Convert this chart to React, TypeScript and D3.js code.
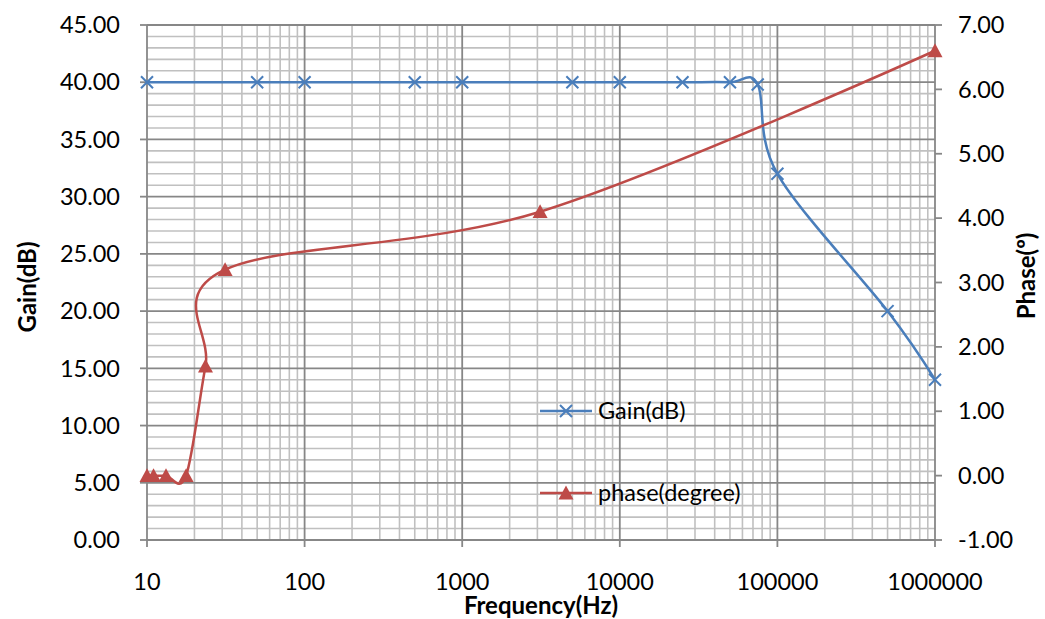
import React from 'react';
import * as d3 from 'd3';

const gainFreq = [10, 50, 100, 500, 1000, 5000, 10000, 25000, 50000, 75000, 100000, 500000, 1000000];
const gainDb = [40, 40, 40, 40, 40, 40, 40, 40, 40, 39.8, 32, 20, 14];
const phaseFreq = [10, 11, 13.2, 17.7, 23.5, 31.3, 3120, 1000000];
const phaseDeg = [0, 0, 0, 0, 1.7, 3.2, 4.1, 6.6];
const xTickValues = [10, 100, 1000, 10000, 100000, 1000000];
const gainTickValues = [0, 5, 10, 15, 20, 25, 30, 35, 40, 45];
const phaseTickValues = [-1, 0, 1, 2, 3, 4, 5, 6, 7];
const seriesNames = ['Gain(dB)', 'phase(degree)'];

const W = 1045;
const H = 619;
const L = 147, R = 935, T = 25, B = 540;
const FONT = 'Lato, "Open Sans", sans-serif';
const BLUE = '#4A7EBB';
const RED = '#BE4B48';

export default function App() {
  const x = d3.scaleLog().domain([10, 1000000]).range([L, R]);
  const yG = d3.scaleLinear().domain([0, 45]).range([B, T]);
  const yP = d3.scaleLinear().domain([-1, 7]).range([B, T]);

  const minorX: number[] = [];
  for (let d = 10; d < 1000000; d *= 10) {
    for (let k = 2; k <= 9; k++) minorX.push(d * k);
  }
  const minorY: number[] = [];
  for (let v = 0; v <= 45; v += 1) if (v % 5 !== 0) minorY.push(v);

  const line = d3.line<[number, number]>().curve(d3.curveCardinal.tension(0));
  const gainPts: [number, number][] = gainFreq.map((f, i) => [x(f), yG(gainDb[i])]);
  const phasePts: [number, number][] = phaseFreq.map((f, i) => [x(f), yP(phaseDeg[i])]);

  const cross = (cx: number, cy: number, k: string) => {
    const s = 6;
    return (
      <path key={k} d={`M${cx - s},${cy - s}L${cx + s},${cy + s}M${cx - s},${cy + s}L${cx + s},${cy - s}`}
        stroke={BLUE} strokeWidth={2} fill="none" />
    );
  };
  const tri = (cx: number, cy: number, k: string) => {
    const s = 7.5;
    return (
      <path key={k} d={`M${cx},${cy - s}L${cx + s},${cy + s * 0.85}L${cx - s},${cy + s * 0.85}Z`} fill={RED} />
    );
  };

  const legY1 = 411, legY2 = 493, legX0 = 540, legX1 = 592;

  return (
    <svg width={W} height={H} style={{ position: 'absolute', left: 0, top: 0, background: '#fff' }} fontFamily={FONT}>
      <rect x={0} y={0} width={W} height={H} fill="#fff" />
      {/* minor grid */}
      {minorX.map((v) => (
        <line key={'mx' + v} x1={x(v)} x2={x(v)} y1={T} y2={B} stroke="#C0C0C0" strokeWidth={1.6} />
      ))}
      {minorY.map((v) => (
        <line key={'my' + v} x1={L} x2={R} y1={yG(v)} y2={yG(v)} stroke="#C0C0C0" strokeWidth={1.6} />
      ))}
      {/* major grid */}
      {xTickValues.map((v) => (
        <line key={'Mx' + v} x1={x(v)} x2={x(v)} y1={T} y2={B} stroke="#878787" strokeWidth={1.8} />
      ))}
      {gainTickValues.map((v) => (
        <line key={'My' + v} x1={L} x2={R} y1={yG(v)} y2={yG(v)} stroke="#878787" strokeWidth={1.8} />
      ))}
      {/* axes ticks */}
      {gainTickValues.map((v) => (
        <line key={'lt' + v} x1={L - 7} x2={L} y1={yG(v)} y2={yG(v)} stroke="#878787" strokeWidth={1.8} />
      ))}
      {phaseTickValues.map((v) => (
        <line key={'rt' + v} x1={R} x2={R + 7} y1={yP(v)} y2={yP(v)} stroke="#878787" strokeWidth={1.8} />
      ))}
      {xTickValues.map((v) => (
        <line key={'bt' + v} x1={x(v)} x2={x(v)} y1={B} y2={B + 7} stroke="#878787" strokeWidth={1.8} />
      ))}
      {/* tick labels */}
      {gainTickValues.map((v) => (
        <text key={'ll' + v} x={120} y={yG(v)} dy="0.35em" textAnchor="end" fontSize={23.5} fill="#000">
          {v.toFixed(2)}
        </text>
      ))}
      {phaseTickValues.map((v) => (
        <text key={'rl' + v} x={958} y={yP(v)} dy="0.35em" textAnchor="start" fontSize={23.5} fill="#000">
          {v.toFixed(2)}
        </text>
      ))}
      {xTickValues.map((v) => (
        <text key={'xl' + v} x={x(v)} y={590} textAnchor="middle" fontSize={23.5} fill="#000">
          {String(v)}
        </text>
      ))}
      {/* axis titles */}
      <text x={541} y={614} textAnchor="middle" fontSize={24} fontWeight="bold" fill="#000">Frequency(Hz)</text>
      <text transform="translate(36,287) rotate(-90)" textAnchor="middle" fontSize={24} fontWeight="bold" fill="#000">Gain(dB)</text>
      <text transform="translate(1035,276) rotate(-90)" textAnchor="middle" fontSize={24} fontWeight="bold" fill="#000">
        Phase(º)
      </text>
      {/* series */}
      <path d={line(gainPts) || ''} fill="none" stroke={BLUE} strokeWidth={2.5} />
      <path d={line(phasePts) || ''} fill="none" stroke={RED} strokeWidth={2.5} />
      {gainPts.map((p, i) => cross(p[0], p[1], 'g' + i))}
      {phasePts.map((p, i) => tri(p[0], p[1], 'p' + i))}
      {/* legend */}
      <line x1={legX0} x2={legX1} y1={legY1} y2={legY1} stroke={BLUE} strokeWidth={2.5} />
      {cross((legX0 + legX1) / 2, legY1, 'lg')}
      <text x={598} y={legY1} dy="0.35em" fontSize={23.5} fill="#000">{seriesNames[0]}</text>
      <line x1={legX0} x2={legX1} y1={legY2} y2={legY2} stroke={RED} strokeWidth={2.5} />
      {tri((legX0 + legX1) / 2, legY2, 'lp')}
      <text x={598} y={legY2} dy="0.35em" fontSize={23.5} fill="#000">{seriesNames[1]}</text>
    </svg>
  );
}
